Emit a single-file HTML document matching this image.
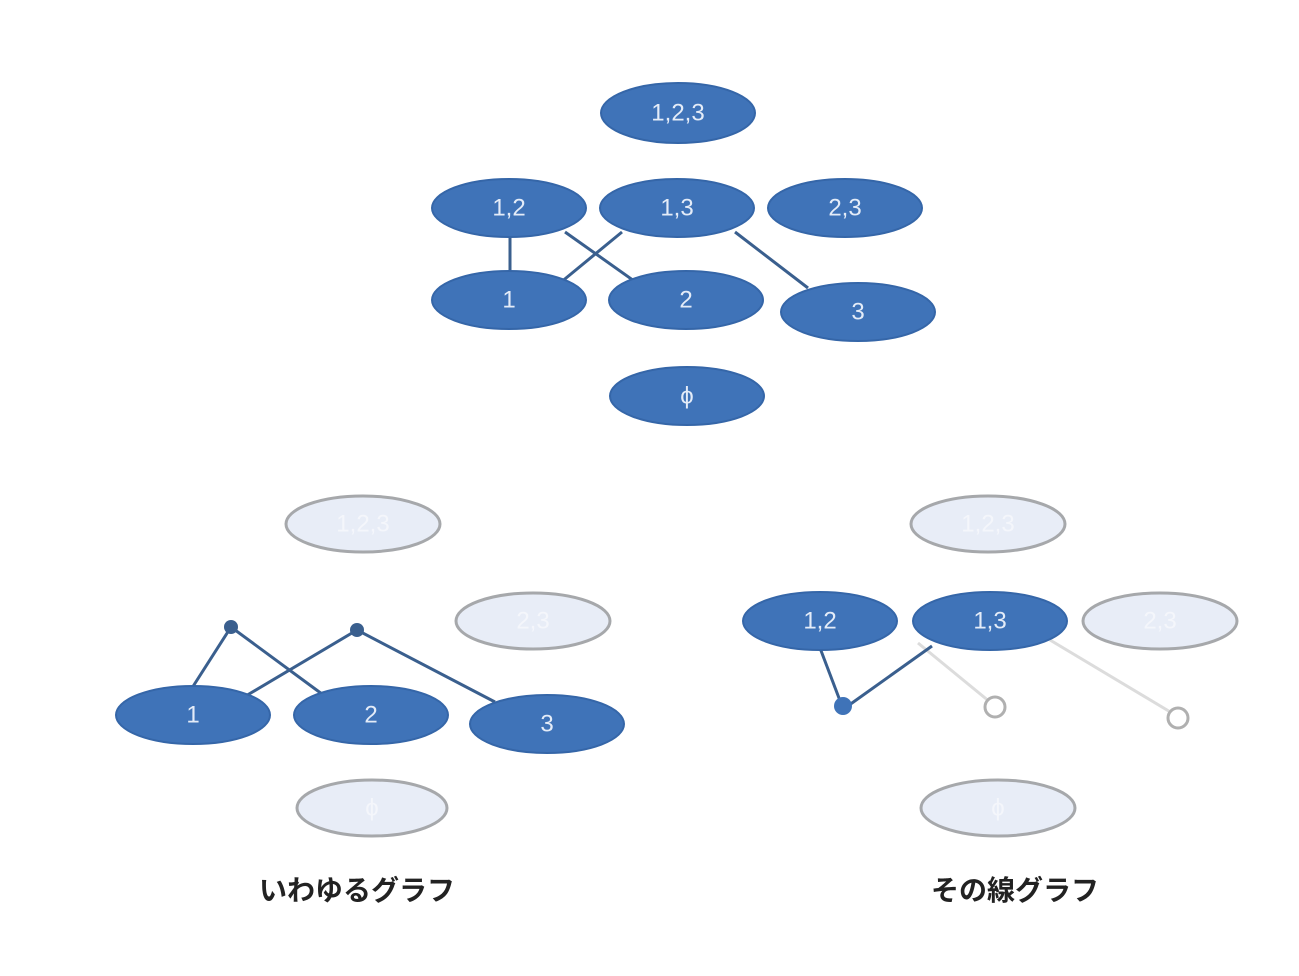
<!DOCTYPE html>
<html><head><meta charset="utf-8"><style>
html,body{margin:0;padding:0;background:#fff;width:1299px;height:976px;overflow:hidden}
svg{display:block}
.b{fill:#3f73b8;stroke:#3566a8;stroke-width:2}
.f{fill:#e8edf7;stroke:#a6a8ab;stroke-width:3}
.t{fill:#e4ecf8;font-family:"Liberation Sans",sans-serif;font-size:24px;text-anchor:middle;dominant-baseline:central}
.tf{fill:#f4f6fb;font-family:"Liberation Sans",sans-serif;font-size:24px;text-anchor:middle;dominant-baseline:central}
.l{stroke:#3a5f8e;stroke-width:3;fill:none}
.lf{stroke:#dcdcdc;stroke-width:3;fill:none}
.j{font-family:"Liberation Sans","Noto Sans CJK JP",sans-serif;font-size:28px;font-weight:bold;fill:#222;text-anchor:middle}
</style></head><body>
<svg width="1299" height="976" viewBox="0 0 1299 976">
<!-- top -->
<line class="l" x1="510" y1="236" x2="510" y2="276"/>
<line class="l" x1="565" y1="232" x2="637" y2="283"/>
<line class="l" x1="622" y1="232" x2="560" y2="283"/>
<line class="l" x1="735" y1="232" x2="808" y2="288"/>
<ellipse class="b" cx="678" cy="113" rx="77" ry="30"/><text class="t" x="678" y="113">1,2,3</text>
<ellipse class="b" cx="509" cy="208" rx="77" ry="29"/><text class="t" x="509" y="208">1,2</text>
<ellipse class="b" cx="677" cy="208" rx="77" ry="29"/><text class="t" x="677" y="208">1,3</text>
<ellipse class="b" cx="845" cy="208" rx="77" ry="29"/><text class="t" x="845" y="208">2,3</text>
<ellipse class="b" cx="509" cy="300" rx="77" ry="29"/><text class="t" x="509" y="300">1</text>
<ellipse class="b" cx="686" cy="300" rx="77" ry="29"/><text class="t" x="686" y="300">2</text>
<ellipse class="b" cx="858" cy="312" rx="77" ry="29"/><text class="t" x="858" y="312">3</text>
<ellipse class="b" cx="687" cy="396" rx="77" ry="29"/><text class="t" x="687" y="396">ϕ</text>
<!-- bottom left -->
<ellipse class="f" cx="363" cy="524" rx="77" ry="28"/><text class="tf" x="363" y="524">1,2,3</text>
<ellipse class="f" cx="533" cy="621" rx="77" ry="28"/><text class="tf" x="533" y="621">2,3</text>
<ellipse class="f" cx="372" cy="808" rx="75" ry="28"/><text class="tf" x="372" y="808">ϕ</text>
<line class="l" x1="231" y1="627" x2="192" y2="688"/>
<line class="l" x1="231" y1="627" x2="322" y2="694"/>
<line class="l" x1="357" y1="630" x2="244" y2="697"/>
<line class="l" x1="357" y1="630" x2="495" y2="702"/>
<ellipse class="b" cx="193" cy="715" rx="77" ry="29"/><text class="t" x="193" y="715">1</text>
<ellipse class="b" cx="371" cy="715" rx="77" ry="29"/><text class="t" x="371" y="715">2</text>
<ellipse class="b" cx="547" cy="724" rx="77" ry="29"/><text class="t" x="547" y="724">3</text>
<circle cx="231" cy="627" r="7" fill="#3a5f8e"/>
<circle cx="357" cy="630" r="7" fill="#3a5f8e"/>
<text class="j" x="357" y="900">いわゆるグラフ</text>
<!-- bottom right -->
<ellipse class="f" cx="988" cy="524" rx="77" ry="28"/><text class="tf" x="988" y="524">1,2,3</text>
<ellipse class="f" cx="1160" cy="621" rx="77" ry="28"/><text class="tf" x="1160" y="621">2,3</text>
<ellipse class="f" cx="998" cy="808" rx="77" ry="28"/><text class="tf" x="998" y="808">ϕ</text>
<line class="lf" x1="918" y1="643" x2="990" y2="702"/>
<line class="lf" x1="1050" y1="640" x2="1172" y2="713"/>
<line class="l" x1="820" y1="648" x2="842" y2="706"/>
<line class="l" x1="845" y1="708" x2="932" y2="646"/>
<ellipse class="b" cx="820" cy="621" rx="77" ry="29"/><text class="t" x="820" y="621">1,2</text>
<ellipse class="b" cx="990" cy="621" rx="77" ry="29"/><text class="t" x="990" y="621">1,3</text>
<circle cx="843" cy="706" r="9" fill="#3f73b8"/>
<circle cx="995" cy="707" r="10" fill="#fff" stroke="#b0b0b0" stroke-width="3"/>
<circle cx="1178" cy="718" r="10" fill="#fff" stroke="#b0b0b0" stroke-width="3"/>
<text class="j" x="1015" y="900">その線グラフ</text>
</svg>
</body></html>
